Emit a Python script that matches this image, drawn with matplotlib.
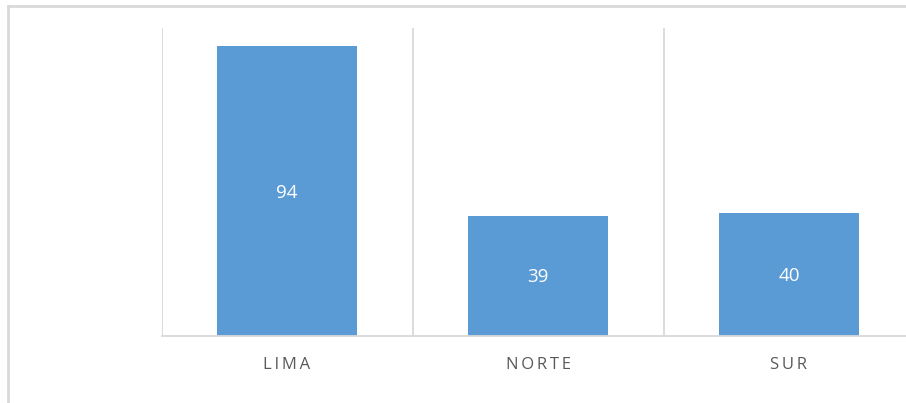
import matplotlib.pyplot as plt
from matplotlib.lines import Line2D

# data
regions = ["LIMA", "NORTE", "SUR"]
counts = [94, 39, 40]

bar_color = "#5b9bd5"
grid_color = "#d9d9d9"
text_color = "#595959"

fig = plt.figure(figsize=(9.06, 4.03), dpi=100)

# outer chart border (cropped on the right and bottom)
bx = 7.5 / 906
by = 1 - 5.5 / 403
fig.add_artist(Line2D([bx, 1.05], [by, by], transform=fig.transFigure,
                      color=grid_color, linewidth=2))
fig.add_artist(Line2D([bx, bx], [-0.05, by], transform=fig.transFigure,
                      color=grid_color, linewidth=2))

ax = fig.add_axes([161.5 / 906, 1 - 336 / 403, 753 / 906, 308 / 403])

x = list(range(len(regions)))
bars = ax.bar(x, counts, width=0.56, color=bar_color, zorder=2)

for b, v in zip(bars, counts):
    ax.text(b.get_x() + b.get_width() / 2, v / 2 - 0.5, str(v), ha="center", va="center",
            color="white", fontsize=13.5, family="Open Sans")

# category separators
for xv in [-0.5, 0.5, 1.5, 2.5]:
    ax.axvline(xv, color=grid_color, linewidth=1.3, zorder=1)

ax.set_xlim(-0.5, 2.5)
ax.set_ylim(0, 100)

for s in ["top", "right", "left"]:
    ax.spines[s].set_visible(False)
ax.spines["bottom"].set_color(grid_color)
ax.spines["bottom"].set_linewidth(1.3)

spaced = ["\u2009".join(r) for r in regions]
ax.set_xticks(x)
ax.set_xticklabels(spaced, color=text_color, fontsize=12, family="Open Sans")
ax.tick_params(axis="x", length=0, pad=15)
ax.set_yticks([])

fig.savefig("out.png", dpi=100)
